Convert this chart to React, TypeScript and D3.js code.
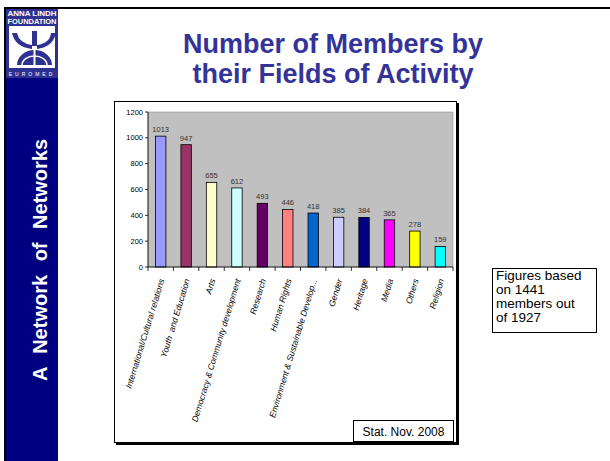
import React from 'react';
import * as d3 from 'd3';

const categories = [
  'International/Cultural relations',
  'Youth  and Education',
  'Arts',
  'Democracy & Community development',
  'Research',
  'Human Rights',
  'Environment & Sustainable Develop...',
  'Gender',
  'Heritage',
  'Media',
  'Others',
  'Religion',
];
const members = [1013, 947, 655, 612, 493, 446, 418, 385, 384, 365, 278, 159];
const barColors = [
  '#9999FF', '#993366', '#FFFFCC', '#CCFFFF', '#660066', '#FF8080',
  '#0066CC', '#CCCCFF', '#000080', '#FF00FF', '#FFFF00', '#00FFFF',
];
const yTicks = [0, 200, 400, 600, 800, 1000, 1200];
const noteLines = ['Figures based', 'on 1441', 'members out', 'of 1927'];

const FONT = 'Arial, "Liberation Sans", sans-serif';

const App = () => {
  const x = d3
    .scaleBand()
    .domain(categories)
    .range([148, 453])
    .paddingInner(0.59)
    .paddingOuter(0.295);
  const band = d3.scaleBand().domain(categories).range([148, 453]);
  const y = d3.scaleLinear().domain([0, 1200]).range([267, 112]);

  return (
    <svg
      width={610}
      height={461}
      style={{ position: 'absolute', left: 0, top: 0, background: '#fff' }}
      fontFamily={FONT}
    >
      {/* slide frame + sidebar */}
      <rect x={4} y={7} width={606} height={2} fill="#000" />
      <rect x={4} y={7} width={2} height={454} fill="#000" />
      <rect x={6} y={9} width={52} height={452} fill="#000080" />

      {/* logo */}
      <rect x={6} y={9} width={52} height={69} fill="#2E3192" />
      <text x={32} y={16} fill="#fff" fontSize={7} fontWeight="bold" textAnchor="middle" textLength={49} lengthAdjust="spacingAndGlyphs">ANNA LINDH</text>
      <text x={32} y={24} fill="#fff" fontSize={7} fontWeight="bold" textAnchor="middle" textLength={49} lengthAdjust="spacingAndGlyphs">FOUNDATION</text>
      <rect x={9} y={26} width={46} height={42} fill="#fff" />
      <path d="M12,33 Q15,47 32,49 L32,45 Q19,43 17,33 Z" fill="#2E3192" />
      <path d="M56,33 Q53,47 37,49 L37,45 Q50,43 51,33 Z" fill="#2E3192" />
      <rect x={32} y={31} width={5} height={15} fill="#2E3192" />
      <path d="M17,65 A17.5,15 0 0 1 52,65 Z" fill="#2E3192" />
      <path d="M22,65 A12.5,9 0 0 1 47,65" fill="none" stroke="#fff" strokeWidth={1.5} />
      <rect x={33.5} y={50} width={2} height={16} fill="#fff" />
      <text x={32} y={76} fill="#fff" fontSize={5} textAnchor="middle" letterSpacing={3}>EUROMED</text>

      <text
        transform="translate(47,260) rotate(-90)"
        fill="#fff"
        fontSize={20}
        fontWeight="bold"
        textAnchor="middle"
        wordSpacing={8}
      >
        A Network of Networks
      </text>

      {/* title */}
      <g fill="#333399" fontSize={27} fontWeight="bold" textAnchor="middle">
        <text x={333} y={53}>Number of Members by</text>
        <text x={333} y={83}>their Fields of Activity</text>
      </g>

      {/* chart frame */}
      <rect x={116} y={103} width={343} height={342} fill="#000" />
      <rect x={114.5} y={101.5} width={342} height={341} fill="#fff" stroke="#000" strokeWidth={1} />

      {/* plot area */}
      <rect x={148} y={112} width={305} height={155} fill="#C0C0C0" stroke="#808080" strokeWidth={0.5} />

      {members.map((v, i) => (
        <g key={categories[i]}>
          <rect
            x={x(categories[i])}
            y={y(v)}
            width={x.bandwidth()}
            height={y(0) - y(v)}
            fill={barColors[i]}
            stroke="#000"
            strokeWidth={0.8}
          />
          <text
            x={(x(categories[i]) as number) + x.bandwidth() / 2}
            y={y(v) - 4}
            fontSize={7.5}
            fill="#333"
            textAnchor="middle"
          >
            {v}
          </text>
        </g>
      ))}

      {/* y axis */}
      <line x1={148} x2={148} y1={112} y2={267} stroke="#000" strokeWidth={0.8} />
      {yTicks.map(t => (
        <g key={t}>
          <line x1={145} x2={148} y1={y(t)} y2={y(t)} stroke="#000" strokeWidth={0.8} />
          <text x={143} y={y(t)} dy="0.35em" fontSize={7.5} textAnchor="end" fill="#000">
            {t}
          </text>
        </g>
      ))}

      {/* x axis */}
      <line x1={148} x2={453} y1={267} y2={267} stroke="#000" strokeWidth={0.8} />
      {categories.map(c => (
        <line
          key={'t' + c}
          x1={band(c) as number}
          x2={band(c) as number}
          y1={267}
          y2={271}
          stroke="#000"
          strokeWidth={0.8}
        />
      ))}
      <line x1={453} x2={453} y1={267} y2={271} stroke="#000" strokeWidth={0.8} />
      {categories.map(c => {
        const cx = (band(c) as number) + band.bandwidth() / 2;
        return (
          <text
            key={'l' + c}
            transform={`translate(${cx + 1},279) rotate(-73)`}
            dy="0.35em"
            fontSize={8.6}
            fontStyle="italic"
            textAnchor="end"
            fill="#000"
            style={{ whiteSpace: 'pre' }}
          >
            {c}
          </text>
        );
      })}

      {/* stat box */}
      <rect x={353.5} y={420.5} width={100} height={21} fill="#fff" stroke="#000" strokeWidth={1} />
      <text x={403.5} y={436} fontSize={12} textAnchor="middle" fill="#000">
        Stat. Nov. 2008
      </text>

      {/* note box */}
      <rect x={492.5} y={268.5} width={104} height={64} fill="#fff" stroke="#000" strokeWidth={1} />
      {noteLines.map((l, i) => (
        <text key={l} x={496} y={280 + i * 14} fontSize={13.5} fill="#000">
          {l}
        </text>
      ))}
    </svg>
  );
};

export default App;
